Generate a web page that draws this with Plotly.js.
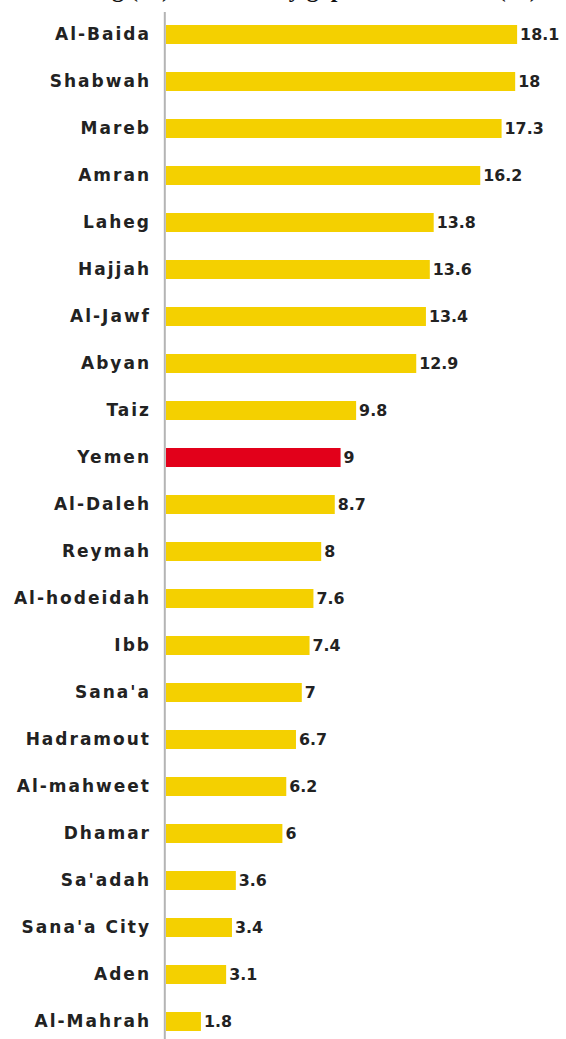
<!DOCTYPE html>
<html>
<head>
<meta charset="utf-8">
<script src="https://cdn.plot.ly/plotly-3.0.1.min.js"></script>
<style>
html,body{margin:0;padding:0;background:#fff;}
#chart{width:566px;height:1039px;}
.ytick text{letter-spacing:2px;}
.textpoint text{letter-spacing:0.8px;}
</style>
</head>
<body>
<div id="chart"></div>
<script>
var chartTitle = "Stunting (%) and Poverty gap rate in Yemen (%)";
var regions = ["Al-Baida","Shabwah","Mareb","Amran","Laheg","Hajjah","Al-Jawf","Abyan","Taiz","Yemen","Al-Daleh","Reymah","Al-hodeidah","Ibb","Sana'a","Hadramout","Al-mahweet","Dhamar","Sa'adah","Sana'a City","Aden","Al-Mahrah"];
var values = [18.1,18,17.3,16.2,13.8,13.6,13.4,12.9,9.8,9,8.7,8,7.6,7.4,7,6.7,6.2,6,3.6,3.4,3.1,1.8];
var valueLabels = ["18.1","18","17.3","16.2","13.8","13.6","13.4","12.9","9.8","9","8.7","8","7.6","7.4","7","6.7","6.2","6","3.6","3.4","3.1","1.8"];
var highlight = "Yemen";

var colors = regions.map(function(r){ return r === highlight ? "#E2001A" : "#F4D000"; });

var trace = {
  type: "bar",
  orientation: "h",
  x: values,
  y: regions,
  text: valueLabels,
  textposition: "outside",
  cliponaxis: false,
  textfont: {family: "DejaVu Sans", size: 16, color: "#222", weight: "bold"},
  marker: {color: colors, line: {width: 0}},
  hoverinfo: "skip"
};

var layout = {
  width: 566,
  height: 1039,
  margin: {l: 166, r: 0, t: 0, b: 0},
  paper_bgcolor: "#fff",
  plot_bgcolor: "#fff",
  showlegend: false,
  bargap: 0.6,
  xaxis: {
    range: [0, 20.62],
    showgrid: false, zeroline: false, showline: false,
    showticklabels: false, ticks: ""
  },
  yaxis: {
    type: "category",
    range: [21.372, -0.734],
    showgrid: false, zeroline: false, showline: false,
    ticks: "",
    ticklabelstandoff: 14,
    tickfont: {family: "DejaVu Sans", size: 17, color: "#222", weight: "bold"}
  },
  annotations: [{
    text: chartTitle,
    xref: "paper", yref: "paper",
    x: -0.33, xanchor: "left",
    y: 1 - 4/1039, yanchor: "bottom",
    showarrow: false,
    font: {family: "Liberation Serif", size: 24, color: "#111", weight: "bold"}
  }],
  shapes: [{
    type: "line", xref: "paper", yref: "paper",
    x0: -0.003, x1: -0.003, y0: 0, y1: 1 - 12/1039,
    line: {color: "#b4b4b4", width: 2}
  }]
};

Plotly.newPlot("chart", [trace], layout, {displayModeBar: false, staticPlot: true});
</script>
</body>
</html>
